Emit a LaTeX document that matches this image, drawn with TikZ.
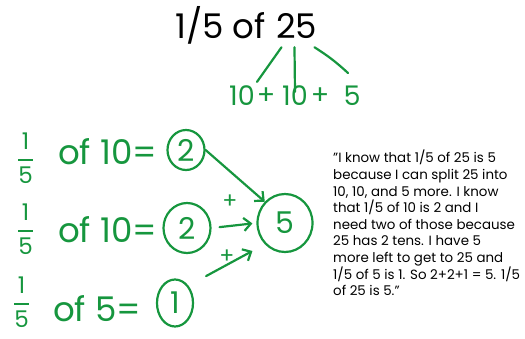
\documentclass[tikz,border=0pt]{standalone}
\usepackage{amsmath}
\usepackage{fontspec}
\setmainfont{Poppins}
\definecolor{markergreen}{RGB}{22,150,62}
\usetikzlibrary{arrows.meta,positioning,shapes.geometric}
\tikzset{
  titletext/.style={font=\fontsize{34}{40}\selectfont,inner sep=0pt},
  handtext/.style={text=markergreen,font=\fontsize{34}{38}\selectfont,inner sep=0pt},
  fractext/.style={text=markergreen,font=\fontsize{23}{26}\selectfont,inner sep=0pt},
  splittext/.style={text=markergreen,font=\fontsize{27}{30}\selectfont,inner sep=0pt},
  plustext/.style={text=markergreen,font=\fontsize{22}{24}\selectfont,inner sep=0pt},
  ringnum/.style={ellipse,draw=markergreen,line width=2.2pt,text=markergreen,
                  font=\fontsize{30}{32}\selectfont,inner sep=0pt},
  inkline/.style={draw=markergreen,line width=2.2pt,line cap=round},
  inkarrow/.style={inkline,-{Straight Barb[length=7pt,width=13pt,line width=2.2pt]}},
  notetext/.style={font=\fontsize{13.4}{16.6}\selectfont,align=left,inner sep=0pt},
}
\newcommand{\onefifth}{\ensuremath{\genfrac{}{}{1.8pt}{0}{\text{1}}{\text{5}}}}

\begin{document}
\begin{tikzpicture}[x=1pt,y=-1pt,>=Stealth]
  \useasboundingbox (0,0) rectangle (525,338);
  % title, split into tens and ones
  \node[titletext,anchor=base west] (ttl) at (175,38) {1/5 of};
  \node[titletext,anchor=base west] (tf) at ([xshift=10pt]ttl.base east) {25};
  \node[splittext] (s1) at (242,96) {10};
  \node[splittext] (sp1) at (266,96) {+};
  \node[splittext] (s2) at (295,96) {10};
  \node[splittext] (sp2) at (320,96) {+};
  \node[splittext] (s3) at (352,96) {5};
  \coordinate (c1) at ([shift={(-15,9)}]tf.south);
  \coordinate (c2) at ([shift={(-2,9)}]tf.south);
  \coordinate (c3) at ([shift={(18,9)}]tf.south);
  \draw[inkline] (c1) -- ([shift={(2,-4)}]s1.north east);
  \draw[inkline] (c2) -- ([yshift=-6]s2.north);
  \draw[inkline] (c3) to[bend left=5] ([shift={(-4,-13)}]s3.north);
  % the three parts
  \node[fractext,anchor=west] (f1) at (17,158) {\onefifth};
  \node[handtext,anchor=west] (t1) at (58,152) {of 10=};
  \node[ringnum,minimum width=37pt,minimum height=40pt] (a1) at (186,150) {2};
  \node[fractext,anchor=west] (f2) at (17,229) {\onefifth};
  \node[handtext,anchor=west] (t2) at (58,230) {of 10=};
  \node[ringnum,minimum width=47pt,minimum height=50pt] (a2) at (187,228) {2};
  \node[fractext,anchor=west] (f3) at (13,302) {\onefifth};
  \node[handtext,anchor=west] (t3) at (53,309) {of 5=};
  \node[ringnum,minimum width=36pt,minimum height=47pt] (a3) at (175,303) {1};
  % sum
  \node[ringnum,minimum width=55pt,minimum height=58pt] (five) at (285,223) {5};
  \draw[inkarrow] (a1.east) -- (five.north west);
  \draw[inkarrow,shorten <=8pt,shorten >=4pt] (a2.east) -- (five.west);
  \draw[inkarrow,shorten <=20pt,shorten >=14pt] (a3.north east) -- (five.south west);
  \node[plustext] (pl1) at (230,202) {+};
  \node[plustext] (pl2) at (227,257) {+};
  % explanation
  \node[notetext,anchor=north west] (note) at (333,150) {"I know that 1/5 of 25 is 5\\
    because I can split 25 into\\
    10, 10, and 5 more. I know\\
    that 1/5 of 10 is 2 and I\\
    need two of those because\\
    25 has 2 tens. I have 5\\
    more left to get to 25 and\\
    1/5 of 5 is 1. So 2+2+1 = 5. 1/5\\
    of 25 is 5."};
\end{tikzpicture}
\end{document}
